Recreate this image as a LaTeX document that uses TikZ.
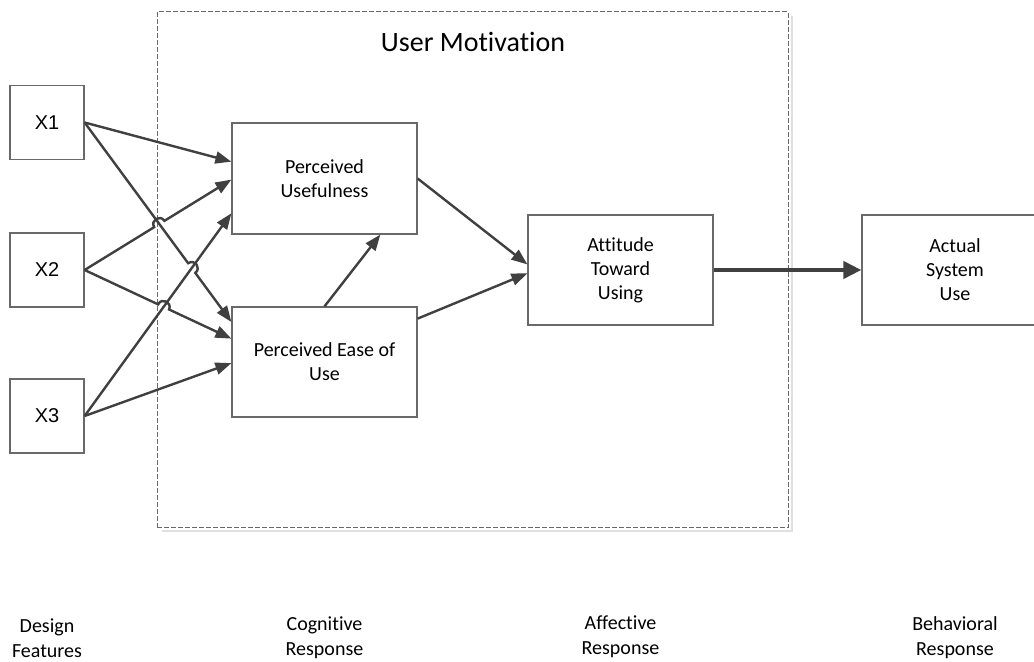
\documentclass[tikz,border=0pt]{standalone}
\usepackage{fontspec}
\setmainfont{Carlito}[Ligatures=NoCommon]
\newfontfamily\arialfont{Liberation Sans}
\usetikzlibrary{arrows.meta, positioning, calc, intersections}
\definecolor{boxgray}{RGB}{105,105,105}
\definecolor{arrowgray}{RGB}{64,64,64}

\begin{document}
\begin{tikzpicture}[x=0.5pt, y=-0.5pt, every node/.style={font=\fontsize{10}{12}\selectfont},
  varbox/.style={draw=boxgray, line width=0.6pt, minimum width=92.5pt, minimum height=55pt, align=center, inner sep=0pt},
  xbox/.style={draw=boxgray, line width=0.6pt, minimum size=37pt, font=\arialfont\fontsize{10}{12}\selectfont},
  arr/.style={-{Triangle[length=8pt, width=6pt]}, line width=1.2pt, draw=arrowgray},
  hop/.style={bend left=90, looseness=1.7},
  stage/.style={align=center, font=\fontsize{10}{12.5}\selectfont}]
\useasboundingbox (0,0) rectangle (1034,662);
\node[draw=boxgray, dash pattern=on 2.5pt off 1pt, line width=0.5pt, minimum width=315.5pt, minimum height=258pt] (um) at (472.5,270) {};
\draw[black!12, line width=1pt] ($(um.north east)+(3,5)$) -- ($(um.south east)+(3,3)$) -- ($(um.south west)+(5,3)$);
\node[font=\fontsize{14}{16}\selectfont] (title) at (473,42) {User Motivation};

\node[xbox] (x1) at (47,122.5) {X1};
\node[xbox] (x2) at (47,270) {X2};
\node[xbox] (x3) at (47,416) {X3};
\node[varbox, minimum height=55.5pt] (pu) at (324.5,178.5) {Perceived\\Usefulness};
\node[varbox] (pe) at (324.5,362) {Perceived Ease of\\Use};
\node[varbox] (atu) at (620.5,270) {Attitude\\Toward\\Using};
\node[varbox, minimum width=93pt] (asu) at (955,270) {Actual\\System\\Use};

\node[stage] (s1) at (x1 |- 0,638) {Design\\Features};
\node[stage] (s2) at (pu |- 0,638) {Cognitive\\Response};
\node[stage] (s3) at (atu |- 0,637) {Affective\\Response};
\node[stage] (s4) at (asu |- 0,638) {Behavioral\\Response};

\coordinate (pu1) at ($(pu.north west)!0.35!(pu.south west)$);
\coordinate (pu2) at ($(pu.north west)!0.51!(pu.south west)$);
\coordinate (pu3) at ($(pu.north west)!0.81!(pu.south west)$);
\coordinate (pe1) at ($(pe.north west)!0.14!(pe.south west)$);
\coordinate (pe2) at ($(pe.north west)!0.29!(pe.south west)$);
\coordinate (pe3) at ($(pe.north west)!0.51!(pe.south west)$);

\path[name path=l1e] (x1.east) -- (pe1);
\path[name path=l2u] (x2.east) -- (pu2);
\path[name path=l3u] (x3.east) -- (pu3);
\path[name path=l2e] (x2.east) -- (pe2);
\path[name intersections={of=l1e and l2u, by=h1}];
\path[name intersections={of=l1e and l3u, by=h2}];
\path[name intersections={of=l2e and l3u, by=h3}];

\draw[arr] (x1.east) -- (pu1);
\draw[arr] (x1.east) -- ($(h2)!3pt!(x1.east)$) to[hop] ($(h2)!3pt!(pe1)$) -- (pe1);
\draw[arr] (x2.east) -- ($(h1)!3pt!(x2.east)$) to[hop] ($(h1)!3pt!(pu2)$) -- (pu2);
\draw[arr] (x2.east) -- ($(h3)!3pt!(x2.east)$) to[hop] ($(h3)!3pt!(pe2)$) -- (pe2);
\draw[arr] (x3.east) -- (pu3);
\draw[arr] (x3.east) -- (pe3);

\draw[arr] (pe.north) -- ($(pu.south west)!0.8!(pu.south east)$);
\draw[arr] (pu.east) -- ($(atu.north west)!0.45!(atu.south west)$);
\draw[arr] ($(pe.north east)!0.11!(pe.south east)$) -- ($(atu.north west)!0.53!(atu.south west)$);
\draw[arr, line width=2pt, -{Triangle[length=9pt, width=8.5pt]}] (atu) -- (asu);
\end{tikzpicture}
\end{document}
